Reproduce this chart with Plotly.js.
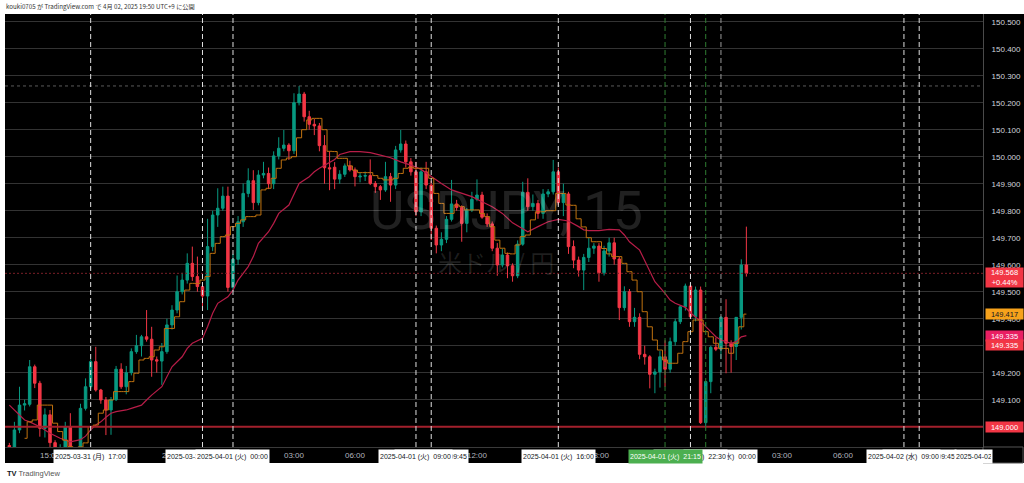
<!DOCTYPE html>
<html><head><meta charset="utf-8">
<script src="https://cdn.plot.ly/plotly-3.0.1.min.js"></script>
<style>html,body{margin:0;padding:0;background:#fff;overflow:hidden}#chart{width:1024px;height:483px}</style>
</head><body><div id="chart"></div>
<script>
// ---- data (USDJPY 15m) ----
const startTime = '2025-03-31T13:00:00Z';
const barMinutes = 15;

const opens = [
148.930,148.925,148.988,149.080,149.083,149.222,149.161,148.994,149.044,148.941,
148.895,148.920,149.000,148.900,148.880,149.068,149.148,149.241,149.136,149.099,
149.062,149.100,149.213,149.148,149.200,149.278,149.300,149.333,149.324,149.248,
149.243,149.278,149.377,149.432,149.500,149.543,149.605,149.556,149.519,149.484,
149.667,149.784,149.809,149.854,149.516,149.620,149.759,149.864,149.911,149.830,
149.932,149.938,149.900,150.003,150.031,150.043,150.022,150.200,150.232,150.148,
150.120,150.114,150.041,149.959,149.961,149.917,149.935,149.966,149.951,149.925,
149.928,149.930,149.901,149.889,149.877,149.926,149.895,150.025,150.047,149.981,
149.944,149.796,149.944,149.895,149.735,149.673,149.694,149.768,149.825,149.812,
149.753,149.802,149.842,149.858,149.776,149.751,149.661,149.599,149.636,149.596,
149.559,149.676,149.868,149.815,149.827,149.790,149.862,149.870,149.944,149.830,
149.862,149.667,149.617,149.580,149.627,149.661,149.669,149.570,149.651,149.681,
149.621,149.441,149.500,149.389,149.405,149.268,149.259,149.194,149.203,149.259,
149.213,149.315,149.389,149.444,149.521,149.407,149.506,149.015,149.167,149.294,
149.287,149.405,149.309,149.297,149.405,149.599];
const highs = [
148.940,149.018,149.148,149.100,149.247,149.230,149.170,149.068,149.062,148.950,
148.935,149.018,149.050,148.915,149.085,149.179,149.250,149.296,149.140,149.110,
149.110,149.225,149.235,149.225,149.290,149.340,149.340,149.432,149.370,149.260,
149.310,149.400,149.450,149.560,149.570,149.642,149.667,149.630,149.530,149.770,
149.800,149.883,149.889,149.889,149.640,149.780,149.901,149.957,149.950,149.950,
149.981,149.960,150.020,150.072,150.099,150.050,150.235,150.262,150.240,150.170,
150.140,150.125,150.080,150.020,149.980,149.950,149.975,149.985,149.960,149.940,
149.945,149.990,149.910,149.895,149.981,149.940,150.040,150.099,150.060,149.995,
149.981,149.960,149.981,149.910,149.745,149.720,149.780,149.914,149.840,149.820,
149.810,149.870,149.916,149.870,149.790,149.760,149.680,149.660,149.645,149.605,
149.690,149.907,149.920,149.860,149.840,149.880,149.880,149.988,149.960,149.900,
149.870,149.690,149.630,149.640,149.700,149.680,149.680,149.670,149.700,149.700,
149.630,149.520,149.510,149.440,149.420,149.300,149.265,149.215,149.280,149.320,
149.330,149.400,149.450,149.530,149.530,149.519,149.519,149.170,149.300,149.330,
149.410,149.472,149.320,149.405,149.620,149.741];
const lows = [
148.910,148.910,148.976,149.060,149.075,149.143,148.963,148.960,148.920,148.880,
148.870,148.900,148.880,148.860,148.870,149.060,149.140,149.130,149.085,148.969,
148.970,149.095,149.140,149.120,149.190,149.270,149.260,149.315,149.185,149.200,
149.155,149.270,149.360,149.420,149.490,149.530,149.540,149.500,149.432,149.432,
149.650,149.740,149.800,149.500,149.500,149.600,149.740,149.850,149.803,149.820,
149.920,149.880,149.880,149.990,150.020,149.988,150.010,150.190,150.130,150.100,
150.080,150.020,149.900,149.876,149.880,149.900,149.925,149.945,149.890,149.905,
149.910,149.895,149.866,149.840,149.870,149.833,149.880,150.015,149.960,149.930,
149.780,149.780,149.880,149.691,149.642,149.650,149.680,149.760,149.800,149.685,
149.720,149.795,149.835,149.770,149.740,149.650,149.559,149.590,149.550,149.537,
149.550,149.670,149.800,149.800,149.770,149.770,149.850,149.860,149.820,149.780,
149.640,149.587,149.556,149.506,149.610,149.640,149.537,149.560,149.630,149.600,
149.395,149.430,149.370,149.370,149.250,149.230,149.142,149.124,149.145,149.148,
149.200,149.300,149.380,149.430,149.400,149.390,149.010,149.000,149.124,149.280,
149.250,149.198,149.200,149.247,149.360,149.556];
const closes = [
148.925,148.988,149.080,149.085,149.222,149.161,148.994,149.044,148.941,148.905,
148.920,149.000,148.900,148.880,149.068,149.148,149.241,149.136,149.099,149.062,
149.100,149.213,149.148,149.200,149.278,149.300,149.333,149.324,149.247,149.243,
149.278,149.377,149.432,149.500,149.543,149.605,149.556,149.519,149.484,149.667,
149.784,149.809,149.854,149.516,149.620,149.759,149.864,149.911,149.830,149.932,
149.938,149.900,150.003,150.031,150.043,150.022,150.200,150.232,150.148,150.120,
150.114,150.041,149.959,149.955,149.917,149.935,149.966,149.951,149.926,149.928,
149.930,149.901,149.889,149.877,149.926,149.895,150.025,150.047,149.981,149.944,
149.796,149.944,149.895,149.735,149.673,149.694,149.768,149.825,149.812,149.753,
149.802,149.842,149.858,149.776,149.751,149.661,149.599,149.636,149.596,149.559,
149.676,149.868,149.815,149.827,149.790,149.862,149.870,149.944,149.830,149.862,
149.667,149.617,149.580,149.627,149.661,149.669,149.570,149.651,149.681,149.621,
149.441,149.500,149.389,149.405,149.268,149.259,149.194,149.203,149.259,149.213,
149.315,149.389,149.444,149.521,149.407,149.506,149.015,149.167,149.294,149.287,
149.405,149.309,149.297,149.405,149.599,149.568];

// slow moving average (crimson), read at these bar numbers
const crimsonBars = [0,2,3,4,6,8,10,12,14,15,16,17,18,19,20,21,23,24,26,27,28,30,31,32,34,35,36,38,39,40,41,43,44,45,47,48,49,51,52,53,55,56,57,59,60,61,62,64,65,67,69,71,73,75,77,79,81,83,85,87,89,91,93,95,97,99,101,102,104,106,108,110,112,113,114,116,118,120,121,122,124,125,126,127,129,130,131,133,134,135,136,138,139,140,142,143,144,145];
const crimsonValues = [149.080,149.045,149.025,149.018,149.000,148.976,148.957,148.944,148.952,148.965,
148.988,149.006,149.018,149.035,149.050,149.056,149.062,149.068,149.080,149.099,
149.117,149.148,149.185,149.222,149.259,149.290,149.309,149.327,149.370,149.420,
149.457,149.481,149.506,149.543,149.593,149.630,149.679,149.722,149.753,149.790,
149.821,149.864,149.901,149.926,149.944,149.957,149.969,149.990,150.008,150.019,
150.019,150.015,150.006,149.996,149.981,149.969,149.953,149.926,149.901,149.877,
149.864,149.852,149.833,149.815,149.790,149.755,149.733,149.722,149.741,149.759,
149.768,149.762,149.741,149.729,149.726,149.726,149.731,149.729,149.710,149.685,
149.654,149.617,149.580,149.537,149.494,149.469,149.457,149.442,149.422,149.407,
149.390,149.352,149.333,149.321,149.309,149.315,149.333,149.337];

// fast moving average (orange step line), one value per bar from bar 3
const orangeStartBar = 3;
const orangeValues = [
148.957,149.018,149.025,149.080,149.080,149.080,149.013,148.982,148.950,148.926,
148.920,148.925,148.940,149.000,149.006,149.050,149.062,149.099,149.130,149.130,
149.130,149.167,149.198,149.247,149.253,149.259,149.284,149.296,149.364,149.364,
149.407,149.463,149.506,149.531,149.530,149.543,149.556,149.642,149.679,149.704,
149.710,149.741,149.753,149.766,149.778,149.778,149.784,149.877,149.883,149.920,
149.957,149.988,149.995,150.000,150.070,150.100,150.136,150.142,150.142,150.100,
150.020,150.019,149.994,149.994,149.966,149.950,149.941,149.941,149.941,149.930,
149.920,149.914,149.914,149.920,149.938,149.957,149.961,149.957,149.957,149.957,
149.920,149.864,149.827,149.790,149.790,149.821,149.815,149.803,149.803,149.803,
149.790,149.778,149.741,149.691,149.661,149.642,149.640,149.673,149.704,149.710,
149.766,149.796,149.796,149.800,149.800,149.864,149.864,149.821,149.820,149.770,
149.740,149.700,149.685,149.685,149.660,149.640,149.630,149.630,149.605,149.574,
149.543,149.500,149.426,149.370,149.321,149.284,149.247,149.235,149.235,149.272,
149.315,149.352,149.395,149.395,149.352,149.333,149.309,149.290,149.290,149.272,
149.309,149.370,149.417];

// vertical time markers and their labels
const markerTimes = ['2025-03-31 17:00','2025-03-31 22:30','2025-04-01 00:00','2025-04-01 09:45','2025-04-01 09:00','2025-04-01 16:00','2025-04-02 00:00','2025-04-01 22:30','2025-04-01 23:15','2025-04-01 21:15','2025-04-02 09:45','2025-04-02 09:00'];
const markerLabels = ['2025-03-31 (月)  17:00','2025-03-31 (月)  22:30','2025-04-01 (火)  00:00','2025-04-01 (火)  09:45','2025-04-01 (火)  09:00','2025-04-01 (火)  16:00','2025-04-02 (水)  00:00','2025-04-01 (火)  22:30','','2025-04-01 (火)  21:15','2025-04-02 (水)  09:45','2025-04-02 (水)  09:00'];
const markerKinds = ['w','w','w','w','w','w','g','w','green','green','w','w'];
const edgeLabel = '2025-04-02';

const tickTimes = ['2025-03-31 15:00','2025-03-31 18:00','2025-03-31 21:00','2025-04-01 00:00','2025-04-01 03:00','2025-04-01 06:00','2025-04-01 09:00','2025-04-01 12:00','2025-04-01 15:00','2025-04-01 18:00','2025-04-01 21:00','2025-04-02 00:00','2025-04-02 03:00','2025-04-02 06:00','2025-04-02 09:00','2025-04-02 12:00'];
const tickLabels = ['15:00','18:00','21:00','1','03:00','06:00','09:00','12:00','15:00','18:00','21:00','2','03:00','06:00','09:00','12:00'];

const dayHigh = 150.262;
const hLine = 149.000;
const lastPrice = 149.568;
const priceTags = [
  {v: 149.568, t: '149.568<br>+0.44%', bg: '#f23645', fg: '#ffffff'},
  {v: 149.417, t: '149.417', bg: '#f7a21b', fg: '#131722'},
  {v: 149.335, t: '149.335', bg: '#e91e63', fg: '#ffffff'},
  {v: 149.335, t: '149.335', bg: '#f23645', fg: '#ffffff'},
  {v: 149.000, t: '149.000', bg: '#f23645', fg: '#ffffff'}
];

// ---- build ----
function barTime(i) {
  const d = new Date(Date.parse(startTime) + i * barMinutes * 60000);
  return d.toISOString().slice(0, 16).replace('T', ' ');
}
const times = opens.map((_, i) => barTime(i));

const PLOT_W = 978, PLOT_H = 433;
const px = v => v / PLOT_W, py = v => v / PLOT_H;

const traces = [
  {type: 'candlestick', x: times, open: opens, high: highs, low: lows, close: closes,
   increasing: {line: {color: '#089981', width: 1}, fillcolor: '#089981'},
   decreasing: {line: {color: '#f23645', width: 1}, fillcolor: '#f23645'},
   whiskerwidth: 0, hoverinfo: 'skip', showlegend: false},
  {type: 'scatter', mode: 'lines', x: crimsonBars.map(i => times[i]), y: crimsonValues,
   line: {color: '#b81d48', width: 1.2}, hoverinfo: 'skip', showlegend: false},
  {type: 'scatter', mode: 'lines', x: orangeValues.map((_, j) => times[orangeStartBar + j]), y: orangeValues,
   line: {color: '#c0720f', width: 1, shape: 'hvh'}, hoverinfo: 'skip', showlegend: false}
];

const shapes = [
  {type: 'rect', xref: 'paper', yref: 'paper', x0: -0.1, x1: 1.1, y0: 1, y1: 1.1, fillcolor: '#ffffff', line: {width: 0}, layer: 'above'},
  {type: 'rect', xref: 'paper', yref: 'paper', x0: -0.1, x1: 0, y0: -0.2, y1: 1.1, fillcolor: '#ffffff', line: {width: 0}, layer: 'above'},
  {type: 'rect', xref: 'paper', yref: 'paper', x0: -0.1, x1: 1.1, y0: -0.2, y1: -py(16), fillcolor: '#ffffff', line: {width: 0}, layer: 'above'},
  {type: 'rect', xref: 'paper', yref: 'paper', x0: 1, x1: 1 + px(40), y0: -py(16), y1: 0, fillcolor: 'rgba(0,0,0,0)', line: {width: 1, color: '#555'}, layer: 'above'},
  {type: 'line', xref: 'paper', yref: 'y', x0: 0, x1: 1, y0: dayHigh, y1: dayHigh, line: {color: '#5a5a5a', width: 1, dash: '3px,3px'}, layer: 'above'},
  {type: 'line', xref: 'paper', yref: 'y', x0: 0, x1: 1, y0: lastPrice, y1: lastPrice, line: {color: '#7a1f27', width: 1, dash: '2px,2px'}, layer: 'above'},
  {type: 'line', xref: 'paper', yref: 'y', x0: 0, x1: 1, y0: hLine, y1: hLine, line: {color: '#a3202c', width: 2}, layer: 'above'}
];
markerTimes.forEach((t, i) => {
  const col = markerKinds[i] === 'green' ? '#2f7d32' : (markerKinds[i] === 'g' ? '#9a9a9a' : '#e0e0e0');
  shapes.push({type: 'line', xref: 'x', yref: 'paper', x0: t, x1: t, y0: 0, y1: 1,
               line: {color: col, width: 1, dash: '5px,3px'}, layer: 'above'});
});

const annotations = [];
annotations.push({xref: 'paper', yref: 'paper', x: px(502), y: py(447 - 211), text: 'USDJPY, 15', showarrow: false,
  font: {family: 'Roboto, Liberation Sans, sans-serif', size: 53, color: 'rgba(255,255,255,0.13)'}});
annotations.push({xref: 'paper', yref: 'paper', x: px(491), y: py(447 - 261), text: '米ドル / 円', showarrow: false,
  font: {family: 'Noto Sans CJK JP, sans-serif', size: 24, color: 'rgba(255,255,255,0.12)'}});
annotations.push({xref: 'paper', yref: 'paper', x: -px(1), y: 1 + py(8), xanchor: 'left', yanchor: 'middle', showarrow: false,
  text: 'kouki0705 が TradingView.com で 4月 02, 2025 19:50 UTC+9 に公開',
  font: {family: 'Noto Sans CJK JP, sans-serif', size: 6.2, color: '#333333'}});
annotations.push({xref: 'paper', yref: 'paper', x: 0, y: -py(27), xanchor: 'left', yanchor: 'middle', showarrow: false,
  text: '<b>TV</b> <span style="color:#555">TradingView</span>',
  font: {family: 'Liberation Sans, sans-serif', size: 7.5, color: '#131722'}});
markerTimes.forEach((t, i) => {
  if (!markerLabels[i]) return;
  const green = markerKinds[i] === 'green';
  annotations.push({xref: 'x', yref: 'paper', x: t, y: -py(10), yanchor: 'middle', showarrow: false,
    text: markerLabels[i], width: 71, height: 11, borderpad: 1,
    bgcolor: green ? '#4caf50' : '#ffffff',
    font: {family: 'Liberation Sans, Noto Sans CJK JP, sans-serif', size: 7, color: green ? '#ffffff' : '#131722'}});
});
annotations.push({xref: 'paper', yref: 'paper', x: px(949), xanchor: 'left', y: -py(10), yanchor: 'middle', showarrow: false,
  text: edgeLabel, width: 35, height: 11, borderpad: 1, bgcolor: '#ffffff', align: 'left',
  font: {family: 'Liberation Sans, sans-serif', size: 7, color: '#131722'}});
priceTags.forEach((p, i) => {
  const twoLine = p.t.indexOf('<br>') >= 0;
  const shift = twoLine ? -4 : (i === 3 ? -9 : 0);
  annotations.push({xref: 'paper', yref: 'y', x: 1 + px(2), xanchor: 'left', y: p.v, yanchor: 'middle', yshift: shift,
    showarrow: false, text: p.t, width: 35, height: twoLine ? 17 : 8, borderpad: 1, bgcolor: p.bg,
    font: {family: 'Liberation Sans, sans-serif', size: 7.5, color: p.fg}});
});

const layout = {
  width: 1024, height: 483,
  margin: {l: 5, r: 41, t: 14, b: 36, pad: 0},
  paper_bgcolor: '#000000', plot_bgcolor: '#000000',
  showlegend: false, dragmode: false, hovermode: false,
  xaxis: {type: 'date', range: ['2025-03-31 12:47:12', '2025-04-02 12:53:18'],
    showgrid: false, zeroline: false, showline: true, linecolor: '#3a3a3a', ticks: '',
    tickmode: 'array', tickvals: tickTimes, ticktext: tickLabels,
    tickfont: {family: 'Liberation Sans, sans-serif', size: 8, color: '#b2b5be'},
    rangeslider: {visible: false}, fixedrange: true},
  yaxis: {side: 'right', range: [148.9248, 150.5285], tick0: 149, dtick: 0.1, tickformat: '.3f',
    showgrid: true, gridcolor: '#333333', gridwidth: 1, zeroline: false, showline: true, linecolor: '#4a4a4a',
    ticks: '', ticklabelstandoff: 6,
    tickfont: {family: 'Liberation Sans, sans-serif', size: 8, color: '#d1d4dc'}, fixedrange: true},
  shapes: shapes, annotations: annotations
};

Plotly.newPlot('chart', traces, layout, {displayModeBar: false, staticPlot: true});
</script>
</body></html>
